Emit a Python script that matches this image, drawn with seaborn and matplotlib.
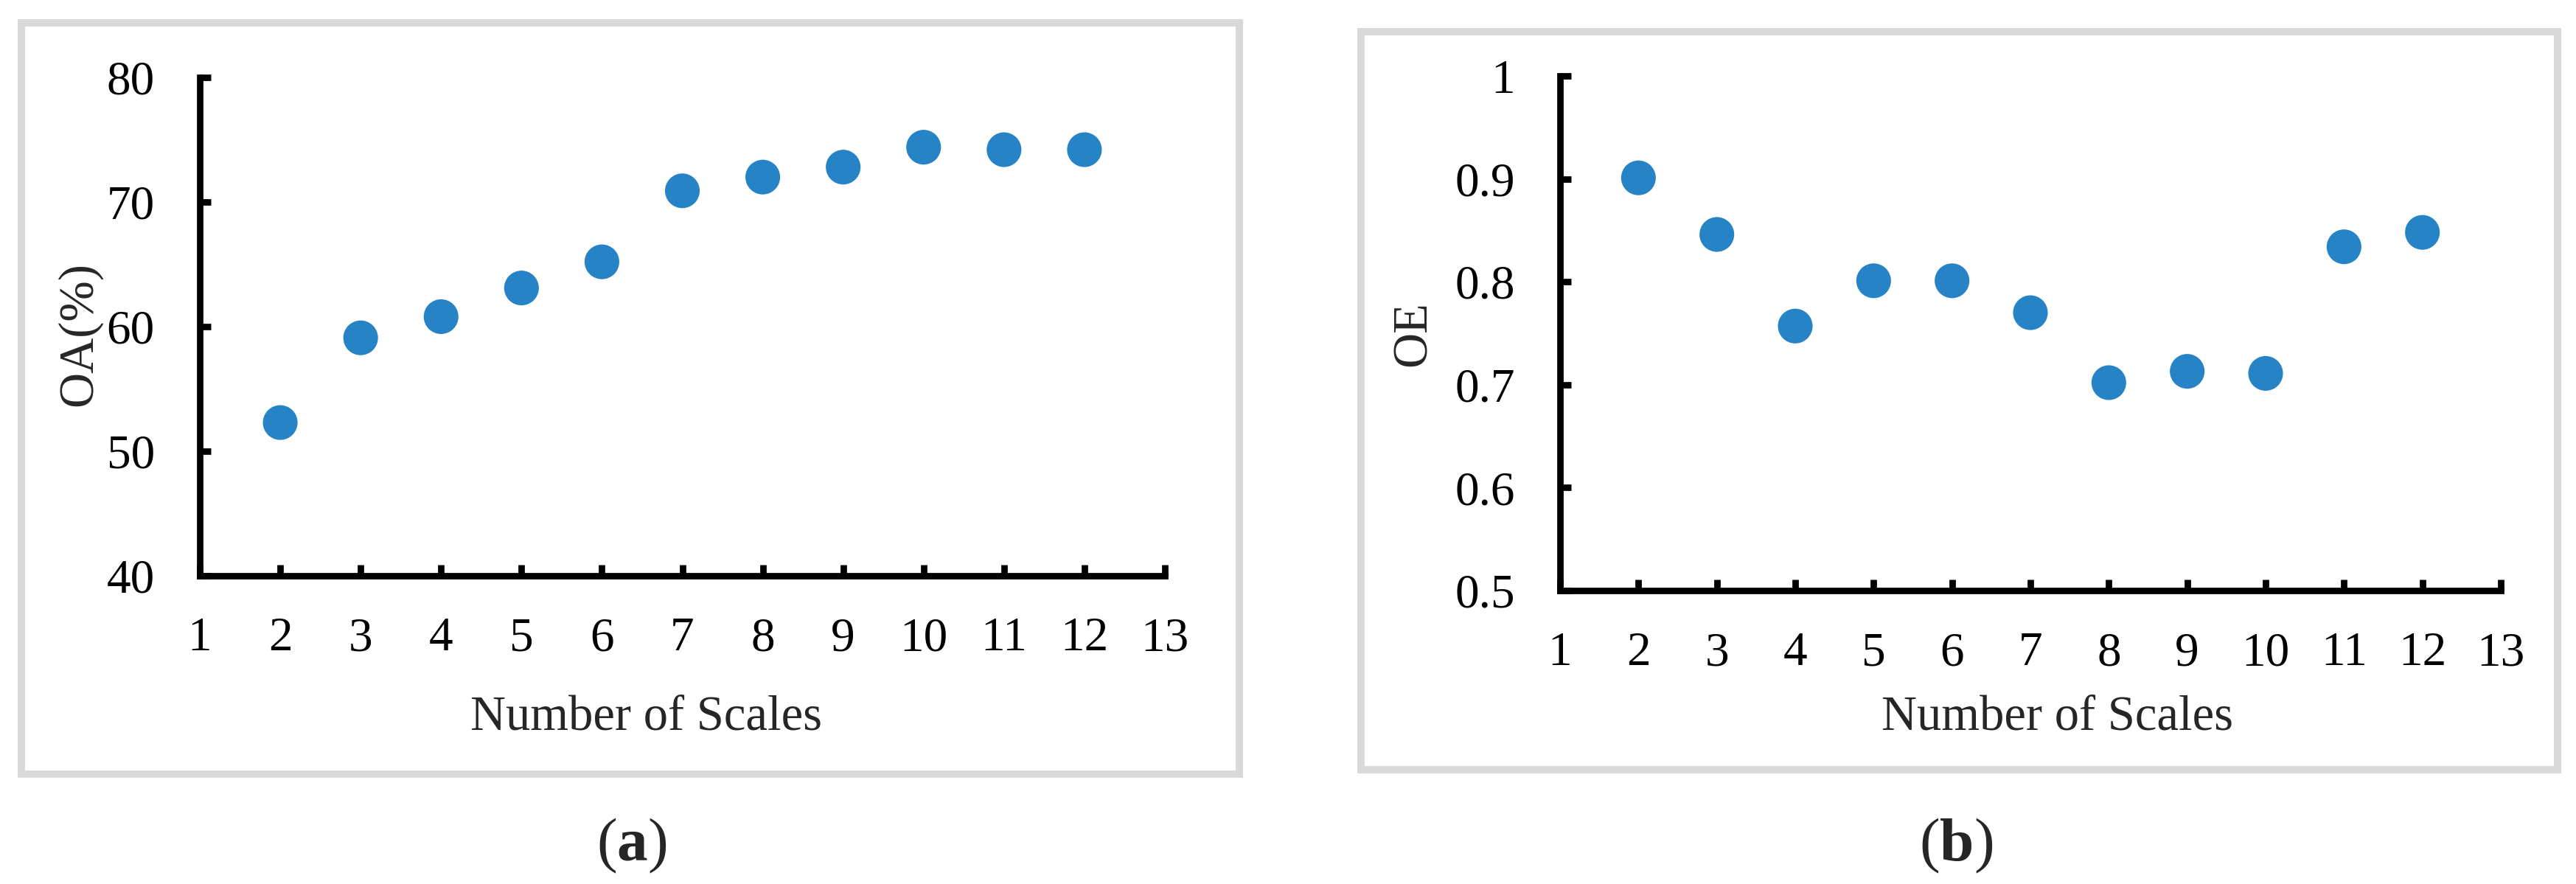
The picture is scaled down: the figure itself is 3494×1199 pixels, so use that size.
import matplotlib
matplotlib.use("Agg")
import matplotlib.pyplot as plt
from matplotlib.patches import Rectangle
import seaborn as sns
import pandas as pd

# Data
scales = [2, 3, 4, 5, 6, 7, 8, 9, 10, 11, 12]
oa_values = [52.3, 59.1, 60.8, 63.1, 65.2, 70.9, 72.0, 72.8, 74.4, 74.2, 74.2]
oe_values = [0.901, 0.846, 0.757, 0.801, 0.801, 0.770, 0.702, 0.713, 0.711, 0.834, 0.848]
x_ticks = list(range(1, 14))
oa_ticks = [40, 50, 60, 70, 80]
oe_ticks = [0.5, 0.6, 0.7, 0.8, 0.9, 1.0]
oe_tick_labels = ["0.5", "0.6", "0.7", "0.8", "0.9", "1"]

df = pd.DataFrame({"scales": scales, "oa": oa_values, "oe": oe_values})

sns.set_theme(style="ticks")
plt.rcParams["font.family"] = ["Liberation Serif", "DejaVu Serif"]
plt.rcParams["mathtext.fontset"] = "custom"
plt.rcParams["mathtext.rm"] = "Liberation Serif"
plt.rcParams["mathtext.bf"] = "Liberation Serif:bold"

W, H = 3494, 1199
fig = plt.figure(figsize=(W / 100, H / 100), dpi=100)
fig.patch.set_facecolor("white")

dot_color = "#2683C6"
border_color = "#D9D9D9"


def px_axes(x0, x1, ytop, ybot):
    return fig.add_axes([x0 / W, 1 - ybot / H, (x1 - x0) / W, (ybot - ytop) / H])


# grey frames round each panel
for (bx0, by0, bx1, by1) in [(29, 31, 1681, 1050), (1846, 43, 3469, 1044)]:
    fig.patches.append(Rectangle((bx0 / W, 1 - by1 / H), (bx1 - bx0) / W, (by1 - by0) / H,
                                 transform=fig.transFigure, fill=False,
                                 edgecolor=border_color, linewidth=7.2, zorder=0))

ax1 = px_axes(271, 1580, 105, 781)
ax2 = px_axes(2116, 3392, 103, 801)

sns.scatterplot(data=df, x="scales", y="oa", ax=ax1, s=1150, color=dot_color,
                edgecolor="none", clip_on=False, zorder=3)
sns.scatterplot(data=df, x="scales", y="oe", ax=ax2, s=1150, color=dot_color,
                edgecolor="none", clip_on=False, zorder=3)

ax1.set_xlim(1, 13)
ax1.set_ylim(40, 80)
ax1.set_yticks(oa_ticks)
ax2.set_xlim(1, 13)
ax2.set_ylim(0.5, 1.0)
ax2.set_yticks(oe_ticks)
ax2.set_yticklabels(oe_tick_labels)

for ax in (ax1, ax2):
    ax.set_xticks(x_ticks)
    ax.set_facecolor("none")
    for side in ["top", "right"]:
        ax.spines[side].set_visible(False)
    for side in ["left", "bottom"]:
        ax.spines[side].set_linewidth(6.3)
        ax.spines[side].set_color("black")
        ax.spines[side].set_capstyle("projecting")
    ax.tick_params(axis="both", direction="in", length=11, width=6.3, colors="black",
                   labelsize=47)
    ax.tick_params(axis="y", pad=44)
    ax.tick_params(axis="x", pad=40)

ax1.set_xlabel("Number of Scales", fontsize=48, va="baseline")
ax1.xaxis.set_label_coords((877 - 271) / 1309, (781 - 989) / 676)
ax1.set_ylabel("OA(%)", fontsize=48, va="center")
ax1.yaxis.set_label_coords((107 - 271) / 1309, (781 - 453) / 676)

ax2.set_xlabel("Number of Scales", fontsize=48, va="baseline")
ax2.xaxis.set_label_coords((2791 - 2116) / 1276, (801 - 989) / 698)
ax2.set_ylabel("OE", fontsize=48, va="center")
ax2.yaxis.set_label_coords((1917 - 2116) / 1276, (801 - 453) / 698)

# panel captions
fig.text(857 / W, 1 - 1147 / H, r"($\mathbf{a}$)", fontsize=60, ha="center", va="center")
fig.text(2653 / W, 1 - 1147 / H, r"($\mathbf{b}$)", fontsize=60, ha="center", va="center")

fig.savefig("out.png", dpi=100, facecolor="white")
